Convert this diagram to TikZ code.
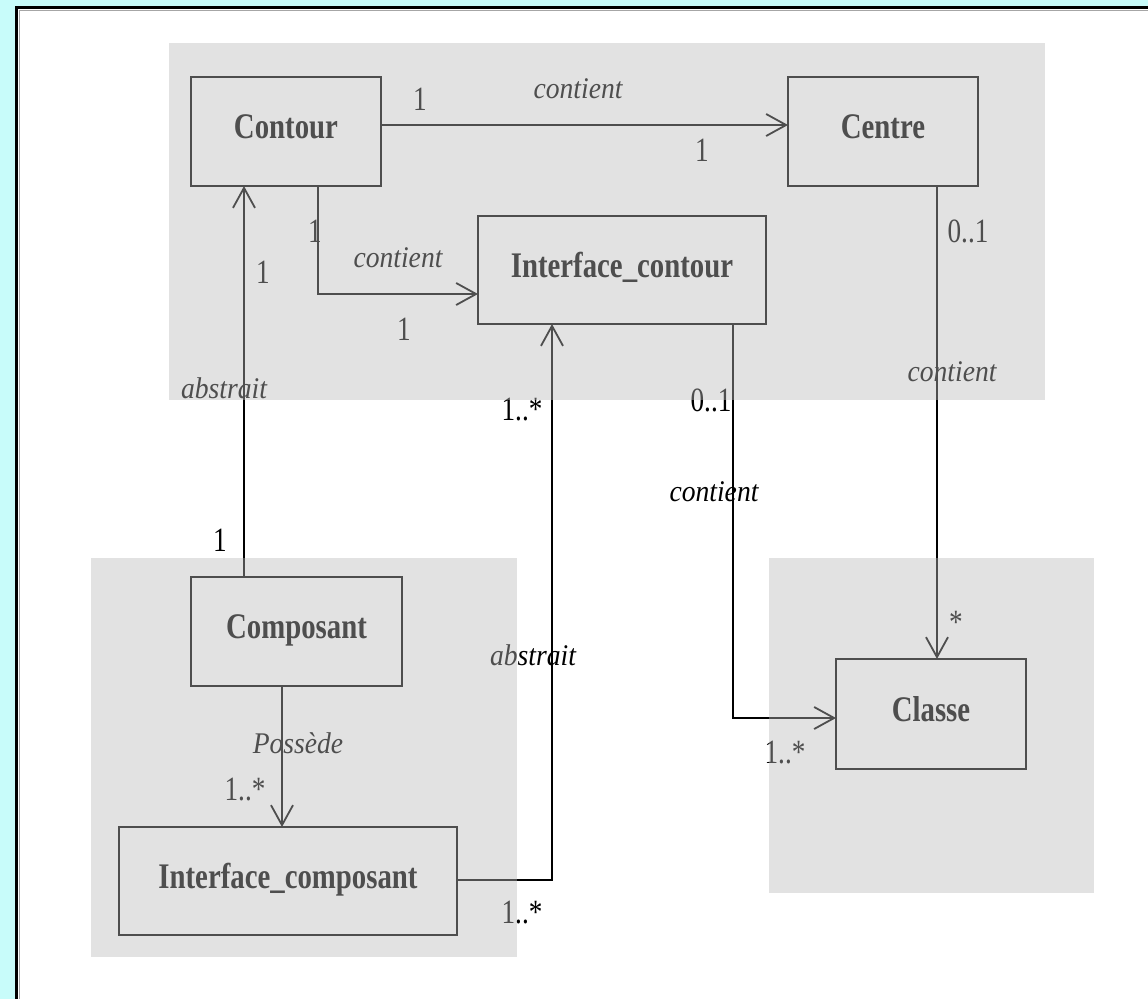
\documentclass[tikz,border=0pt]{standalone}
\usepackage{fontspec}
\setmainfont{Liberation Serif}
\newfontfamily\classfont[FakeStretch=0.8]{Liberation Serif}
\newfontfamily\rolefont[FakeStretch=0.92]{Liberation Serif}
\newfontfamily\multfont[FakeStretch=0.8]{Liberation Serif}
\usetikzlibrary{arrows.meta}
\definecolor{frameblue}{RGB}{200,252,250}
\tikzset{
  classbox/.style={draw=black, line width=1pt, inner sep=0pt, outer sep=0pt,
    text height=12pt, text depth=5pt,
    font=\classfont\bfseries\fontsize{18}{20}\selectfont},
  assoc/.style={draw=black, line width=1pt,
    -{Straight Barb[length=10pt, width=11pt, line width=0.9pt]}},
  role/.style={inner sep=0pt, font=\rolefont\itshape\fontsize{15}{17}\selectfont},
  mult/.style={inner sep=0pt, font=\multfont\fontsize{17}{19}\selectfont},
  zone/.style={draw=none, fill=white!73!black, fill opacity=0.42}
}
\begin{document}
\begin{tikzpicture}[x=0.5pt, y=-0.5pt]
\useasboundingbox (0,0) rectangle (1148,998);
% window frame: the white panel runs past the right and bottom edges
\fill[frameblue] (-10,-10) rectangle (1160,1010);
\fill[white] (16,7) rectangle (1160,1010);
\draw[line width=1.5pt, black] (16.5,1010) -- (16.5,7.5) -- (1160,7.5);
\draw[line width=0.5pt, black!35] (19,1010) -- (19,10) -- (1160,10);

% classes
\node[classbox, minimum width=95pt, minimum height=54.5pt] (contour) at (286,131.5) {Contour};
\node[classbox, minimum width=95pt, minimum height=54.5pt] (centre) at (883,131.5) {Centre};
\node[classbox, minimum width=144pt, minimum height=54pt] (icontour) at (622,270) {Interface\_contour};
\node[classbox, minimum width=105.5pt, minimum height=54.5pt] (composant) at (296.5,631.5) {Composant};
\node[classbox, minimum width=169pt, minimum height=54pt] (icomposant) at (288,881) {Interface\_composant};
\node[classbox, minimum width=95pt, minimum height=55pt] (classe) at (931,714) {Classe};

% routing points
\coordinate (k1) at (0,125);
\coordinate (k2) at (318,294);
\coordinate (k3) at (244,0);
\coordinate (k4) at (552,880);
\coordinate (k5) at (733,718);
\coordinate (k6) at (937,0);
\coordinate (k7) at (282,0);

% associations
\draw[assoc] (contour.east |- k1) -- (centre.west |- k1);
\draw[assoc] (contour.south -| k2) |- (icontour.west |- k2);
\draw[assoc] (composant.north -| k3) -- (contour.south -| k3);
\draw[assoc] (icomposant.east |- k4) -| (icontour.south -| k4);
\draw[assoc] (icontour.south -| k5) |- (classe.west |- k5);
\draw[assoc] (centre.south -| k6) -- (classe.north -| k6);
\draw[assoc] (composant.south -| k7) -- (icomposant.north -| k7);

% role names
\node[role] (r1) at (578,89) {contient};
\node[role] (r2) at (398,258) {contient};
\node[role] (r3) at (224,388) {abstrait};
\node[role] (r4) at (533,655) {abstrait};
\node[role] (r5) at (714,492) {contient};
\node[role] (r6) at (952,372) {contient};
\node[role] (r7) at (298,743) {Possède};

% multiplicities
\node[mult] (m1) at (420,99) {1};
\node[mult] (m2) at (702,150) {1};
\node[mult] (m3) at (315,231) {1};
\node[mult] (m4) at (404,329) {1};
\node[mult] (m5) at (263,272) {1};
\node[mult] (m6) at (220,540) {1};
\node[mult] (m7) at (522,410) {1..*};
\node[mult] (m8) at (522,913) {1..*};
\node[mult] (m9) at (711,400) {0..1};
\node[mult] (m10) at (785,753) {1..*};
\node[mult] (m11) at (968,231) {0..1};
\node[mult] (m12) at (956,622) {*};
\node[mult] (m13) at (245,790) {1..*};

% package zones (translucent grey over the drawing)
\fill[zone] (169,43) rectangle (1045,400);
\fill[zone] (91,558) rectangle (517,957);
\fill[zone] (769,558) rectangle (1094,893);
\end{tikzpicture}
\end{document}
